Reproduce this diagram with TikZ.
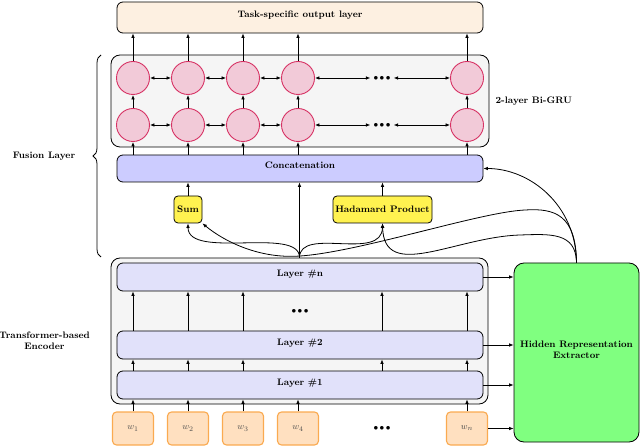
\documentclass[tikz,border=0pt]{standalone}
\usetikzlibrary{arrows.meta,decorations.pathreplacing,calc}
\definecolor{outfill}{RGB}{253,240,225}
\definecolor{contfill}{RGB}{245,245,245}
\definecolor{concatfill}{RGB}{204,204,255}
\definecolor{layerfill}{RGB}{225,225,250}
\definecolor{opfill}{RGB}{255,242,80}
\definecolor{hrefill}{RGB}{128,255,128}
\definecolor{wfill}{RGB}{255,224,192}
\definecolor{wdraw}{RGB}{250,170,80}
\definecolor{grufill}{RGB}{242,202,216}
\definecolor{grudraw}{RGB}{215,50,100}
\begin{document}
\begin{tikzpicture}[x=1pt,y=-1pt, font=\fontsize{9.4}{11.3}\selectfont\bfseries,
  box/.style={draw=black, line width=0.8pt, rounded corners=6pt, inner sep=0pt, text height=7pt, text depth=7pt},
  cont/.style={draw=black, line width=0.8pt, rounded corners=9pt, fill=contfill, inner sep=0pt},
  gru/.style={circle, draw=grudraw, line width=0.9pt, fill=grufill, minimum size=33pt, inner sep=0pt},
  opbox/.style={draw=black, line width=0.8pt, rounded corners=4pt, fill=opfill, minimum height=27pt, inner sep=2pt},
  wbox/.style={draw=wdraw, line width=1.1pt, rounded corners=4pt, fill=wfill, minimum width=41pt, minimum height=33pt, inner sep=0pt, text=black!70},
  arr/.style={-{Latex[length=4.5pt,width=3.6pt]}, line width=0.8pt},
  darr/.style={{Latex[length=4.5pt,width=3.6pt]}-{Latex[length=4.5pt,width=3.6pt]}, line width=0.8pt},
  dotsnode/.style={inner ysep=0pt, inner xsep=3pt},
  lbl/.style={align=center}
]
\useasboundingbox (0,0) rectangle (640,446);

% ---------- output layer ----------
\node[box, fill=outfill, minimum width=366pt, minimum height=31pt] (out) at (300,17.5) {Task-specific output layer};

% ---------- Bi-GRU ----------
\node[cont, minimum width=378pt, minimum height=92pt] (grubox) at (300,101) {};
\node[gru] (a1) at (133,78) {};
\node[gru] (a2) at (188,78) {};
\node[gru] (a3) at (243,78) {};
\node[gru] (a4) at (298,78) {};
\node[gru] (a5) at (467,78) {};
\node[gru] (b1) at (133,125) {};
\node[gru] (b2) at (188,125) {};
\node[gru] (b3) at (243,125) {};
\node[gru] (b4) at (298,125) {};
\node[gru] (b5) at (467,125) {};
\node[dotsnode] (adots) at (382,78) {${\bullet}\,{\bullet}\,{\bullet}$};
\node[dotsnode] (bdots) at (382,125) {${\bullet}\,{\bullet}\,{\bullet}$};
\node[anchor=west] (grulbl) at (492,101) {2-layer Bi-GRU};

% ---------- concatenation & ops ----------
\node[box, fill=concatfill, minimum width=366pt, minimum height=27pt] (concat) at (300,168.5) {Concatenation};
\node[opbox, minimum width=28pt] (sum) at (188,209.5) {Sum};
\node[opbox, minimum width=99pt] (had) at (382.5,209.5) {Hadamard Product};

% ---------- encoder ----------
\node[cont, minimum width=377pt, minimum height=146pt] (enc) at (299.5,331) {};
\node[box, fill=layerfill, minimum width=366pt, minimum height=28pt] (ln) at (300,277) {Layer \#n};
\node[box, fill=layerfill, minimum width=366pt, minimum height=28pt] (l2) at (300,345) {Layer \#2};
\node[box, fill=layerfill, minimum width=366pt, minimum height=28pt] (l1) at (300,385) {Layer \#1};
\node[dotsnode] (ldots) at (300,311) {${\bullet}\,{\bullet}\,{\bullet}$};

% ---------- inputs ----------
\node[wbox] (w1) at (133,428.5) {$w_1$};
\node[wbox] (w2) at (188,428.5) {$w_2$};
\node[wbox] (w3) at (243,428.5) {$w_3$};
\node[wbox] (w4) at (298,428.5) {$w_4$};
\node[wbox] (wn) at (467,428.5) {$w_n$};
\node[dotsnode] (wdots) at (382,428.5) {${\bullet}\,{\bullet}\,{\bullet}$};

% ---------- extractor ----------
\node[draw=black, line width=0.8pt, rounded corners=10pt, fill=hrefill, minimum width=125pt, minimum height=179pt, inner sep=0pt] (hre) at (576.5,352.5) {};
\node[lbl] (hrelbl) at (576.5,349.5) {Hidden Representation\\Extractor};

% ---------- side labels ----------
\node (fuslbl) at (44,156) {Fusion Layer};
\node[lbl] (enclbl) at (44.5,341) {Transformer-based\\Encoder};
\coordinate (bb) at (101,257);
\coordinate (bt) at (101,55);
\draw[decorate, decoration={brace, amplitude=8pt}, line width=0.8pt] (bb) -- (bt);

% ---------- GRU connectors ----------
\foreach \i in {1,...,5}{
  \draw[arr] (a\i.north) -- (a\i.north |- out.south);
  \draw[arr] (b\i.north) -- (a\i.south);
  \draw[arr] (b\i.south |- concat.north) -- (b\i.south);
}
\foreach \r in {a,b}{
  \draw[darr] (\r1.east) -- (\r2.west);
  \draw[darr] (\r2.east) -- (\r3.west);
  \draw[darr] (\r3.east) -- (\r4.west);
  \draw[darr] (\r4.east) -- (\r dots.west);
  \draw[darr] (\r dots.east) -- (\r5.west);
}

% ---------- ops to concat ----------
\draw[arr] (sum.north) -- (sum.north |- concat.south);
\draw[arr] (had.north) -- (had.north |- concat.south);
\draw[arr] (enc.north) -- (enc.north |- concat.south);
\draw[arr] (enc.north) .. controls (300,226) and (188,260) .. (sum.south);
\draw[arr] (enc.north) .. controls (300,226) and (382,262) .. (had.south);

% ---------- extractor curves ----------
\draw[arr] (hre.north) .. controls (576,205) and (530,168.5) .. (concat.east);
\draw[arr] (hre.north) .. controls (576,215) and (555,208) .. (525,210)
   .. controls (480,212) and (360,252) .. (300,256)
   .. controls (260,259) and (225,242) .. (sum.south east);
\draw[arr] (hre.north) .. controls (576,232) and (550,234) .. (520,235)
   .. controls (455,237) and (384,282) .. (had.south);

% ---------- encoder connectors ----------
\foreach \c in {w1,w2,w3,wdots,wn}{
  \draw[arr] (l1.north -| \c) -- (l2.south -| \c);
  \draw[arr] (l2.north -| \c) -- (ln.south -| \c);
}
\foreach \c in {w1,w2,w3,w4,wn}{
  \draw[arr] (\c.north) -- (\c.north |- l1.south);
}
\foreach \c in {ln,l2,l1,wn}{
  \draw[arr] (\c.east) -- (\c.east -| hre.west);
}
\end{tikzpicture}
\end{document}
